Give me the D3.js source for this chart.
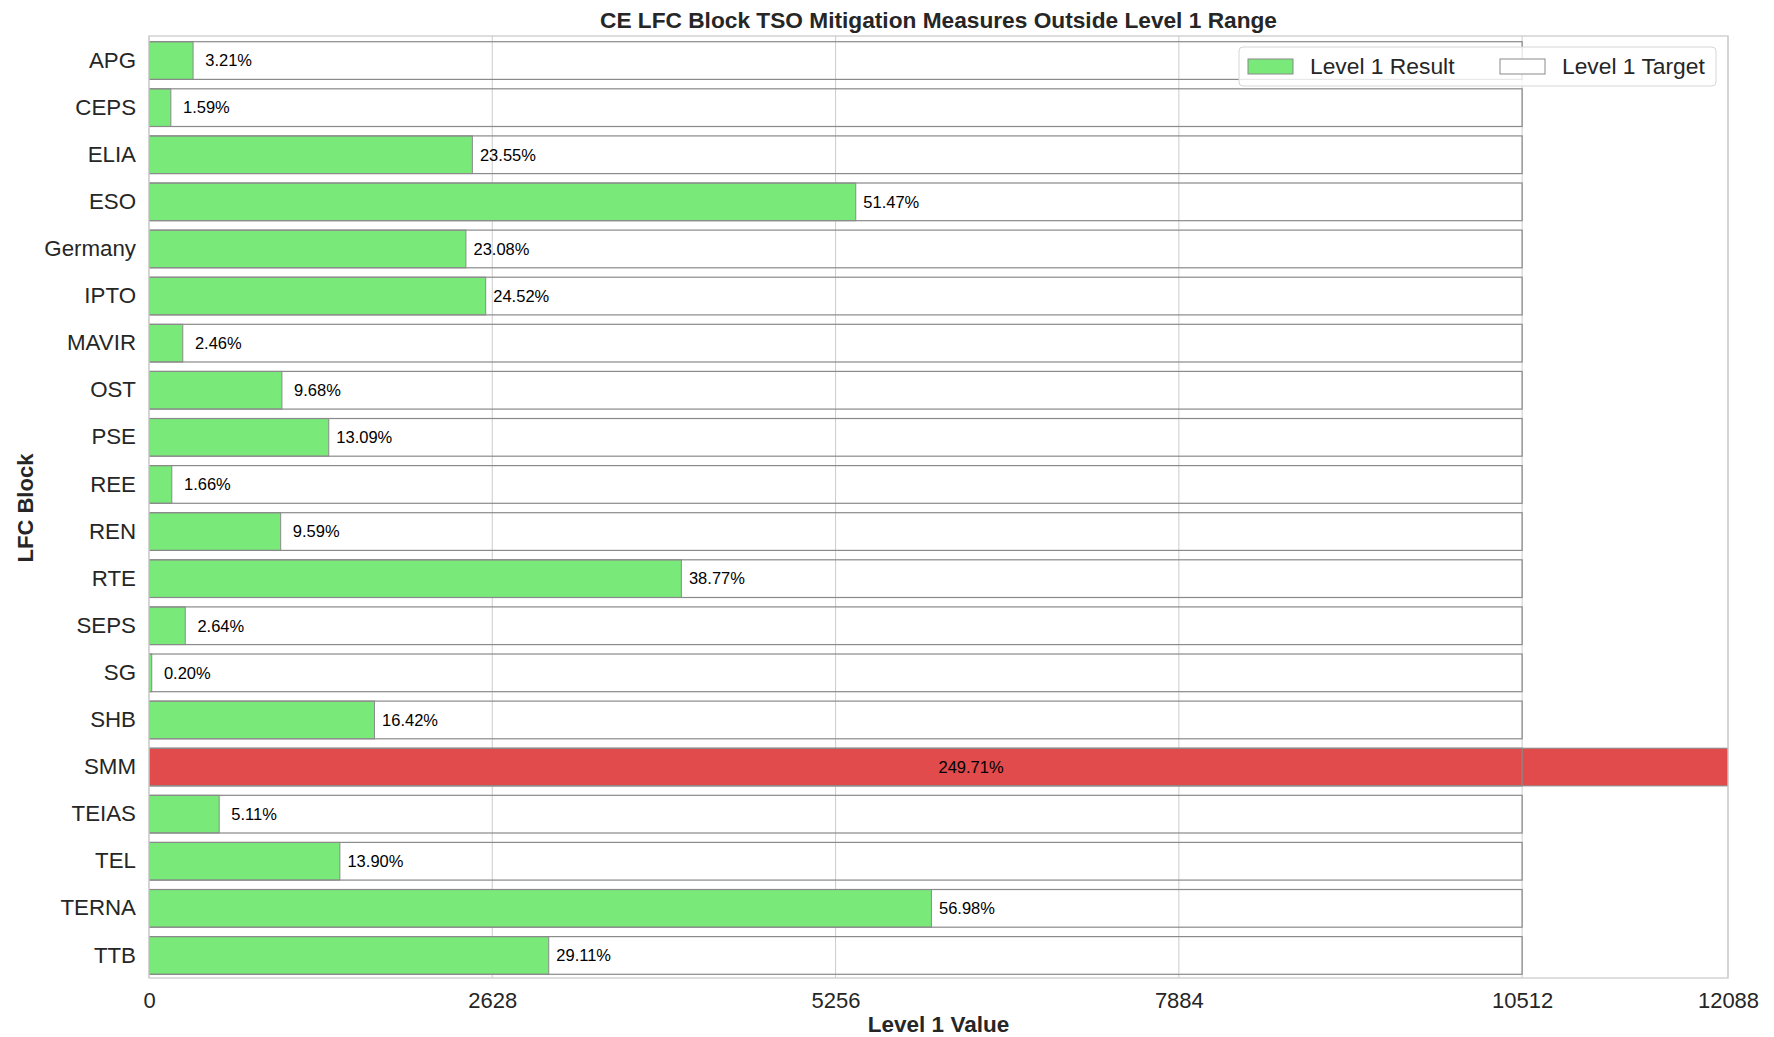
<!DOCTYPE html>
<html>
<head>
<meta charset="utf-8">
<script src="https://cdn.jsdelivr.net/npm/d3@7"></script>
<style>
  html, body { margin: 0; padding: 0; background: #ffffff; }
  svg { display: block; font-family: "Liberation Sans", Arial, sans-serif; }
</style>
</head>
<body>
<svg id="chart" width="1774" height="1037"></svg>
<script>
// ---- data ----
const categories = ["APG","CEPS","ELIA","ESO","Germany","IPTO","MAVIR","OST","PSE","REE",
                    "REN","RTE","SEPS","SG","SHB","SMM","TEIAS","TEL","TERNA","TTB"];
const resultPct = [3.21, 1.59, 23.55, 51.47, 23.08, 24.52, 2.46, 9.68, 13.09, 1.66,
                   9.59, 38.77, 2.64, 0.20, 16.42, 249.71, 5.11, 13.90, 56.98, 29.11];
const level1Target = 10512;
const xMax = 12088;
const xTicks = [0, 2628, 5256, 7884, 10512, 12088];
const title = "CE LFC Block TSO Mitigation Measures Outside Level 1 Range";
const xLabel = "Level 1 Value";
const yLabel = "LFC Block";
const legendLabels = ["Level 1 Result", "Level 1 Target"];

// ---- layout ----
const svg = d3.select("#chart");
const m = { left: 149, right: 1728, top: 36, bottom: 978 };
const GREEN = "#79ea79", RED = "#e14b4b", EDGE = "#8a8a8a", GRID = "#d0d0d0", TEXT = "#262626";

const x = d3.scaleLinear().domain([0, xMax]).range([m.left, m.right]);
const y = d3.scaleBand().domain(categories).range([m.top + 1, m.bottom + 1]).paddingInner(0.2).paddingOuter(0.1);

const rows = categories.map((c, i) => ({
  cat: c, pct: resultPct[i], value: resultPct[i] * level1Target / 100, target: level1Target
}));

svg.append("defs").append("clipPath").attr("id", "plotclip")
  .append("rect").attr("x", m.left).attr("y", m.top)
  .attr("width", m.right - m.left).attr("height", m.bottom - m.top);

// grid
svg.append("g").selectAll("line").data(xTicks).join("line")
  .attr("x1", d => x(d)).attr("x2", d => x(d))
  .attr("y1", m.top).attr("y2", m.bottom)
  .attr("stroke", GRID).attr("stroke-width", 1.1);

const plot = svg.append("g").attr("clip-path", "url(#plotclip)");

// result bars
plot.append("g").selectAll("rect").data(rows).join("rect")
  .attr("x", x(0))
  .attr("y", d => y(d.cat))
  .attr("width", d => x(d.value) - x(0))
  .attr("height", y.bandwidth())
  .attr("fill", d => d.value > d.target ? RED : GREEN)
  .attr("stroke", EDGE).attr("stroke-width", 1);

// target bars (outline only)
plot.append("g").selectAll("rect").data(rows).join("rect")
  .attr("x", x(0))
  .attr("y", d => y(d.cat))
  .attr("width", d => x(d.target) - x(0))
  .attr("height", y.bandwidth())
  .attr("fill", "none")
  .attr("stroke", EDGE).attr("stroke-width", 1.2);

// value labels
const fmt = d3.format("6.2f");
svg.append("g").selectAll("text").data(rows).join("text")
  .attr("x", d => d.value > xMax ? x(xMax / 2) : x(d.value) + 3)
  .attr("y", d => y(d.cat) + y.bandwidth() / 2)
  .attr("dy", "0.35em")
  .attr("font-size", 16.5)
  .attr("fill", "#000")
  .style("white-space", "pre")
  .text(d => d.value > xMax ? d.pct.toFixed(2) + "%" : fmt(d.pct) + "%");

// frame
svg.append("rect").attr("x", m.left).attr("y", m.top)
  .attr("width", m.right - m.left).attr("height", m.bottom - m.top)
  .attr("fill", "none").attr("stroke", "#cccccc").attr("stroke-width", 1.3);

// y axis labels
const yAxis = d3.axisLeft(y).tickSize(0).tickPadding(13);
const gy = svg.append("g").attr("transform", `translate(${m.left},0)`).call(yAxis);
gy.select(".domain").remove();
gy.selectAll("text").attr("font-size", 22.3).attr("fill", TEXT)
  .attr("font-family", "Liberation Sans, Arial, sans-serif");

// x axis labels
const xAxis = d3.axisBottom(x).tickValues(xTicks).tickSize(0).tickPadding(14).tickFormat(d3.format("d"));
const gx = svg.append("g").attr("transform", `translate(0,${m.bottom})`).call(xAxis);
gx.select(".domain").remove();
gx.selectAll("text").attr("font-size", 22).attr("fill", TEXT)
  .attr("font-family", "Liberation Sans, Arial, sans-serif");

// titles
svg.append("text").attr("x", (m.left + m.right) / 2).attr("y", 28)
  .attr("text-anchor", "middle").attr("font-size", 22.7).attr("font-weight", "bold")
  .attr("fill", TEXT).text(title);
svg.append("text").attr("x", (m.left + m.right) / 2).attr("y", 1032)
  .attr("text-anchor", "middle").attr("font-size", 22.5).attr("font-weight", "bold")
  .attr("fill", TEXT).text(xLabel);
svg.append("text").attr("transform", `translate(33,508) rotate(-90)`)
  .attr("text-anchor", "middle").attr("font-size", 22).attr("font-weight", "bold")
  .attr("fill", TEXT).text(yLabel);

// legend
const lg = svg.append("g");
lg.append("rect").attr("x", 1239).attr("y", 47).attr("width", 477).attr("height", 39)
  .attr("rx", 4).attr("fill", "#ffffff").attr("fill-opacity", 0.8)
  .attr("stroke", "#d6d6d6").attr("stroke-width", 1);
const items = [
  { label: legendLabels[0], fill: GREEN, px: 1248, tx: 1310 },
  { label: legendLabels[1], fill: "none", px: 1500, tx: 1562 }
];
items.forEach(it => {
  lg.append("rect").attr("x", it.px).attr("y", 59).attr("width", 45).attr("height", 15)
    .attr("fill", it.fill === "none" ? "#ffffff" : it.fill).attr("stroke", EDGE).attr("stroke-width", 1);
  lg.append("text").attr("x", it.tx).attr("y", 66).attr("dy", "0.35em")
    .attr("font-size", 22.8).attr("fill", TEXT).text(it.label);
});
</script>
</body>
</html>
